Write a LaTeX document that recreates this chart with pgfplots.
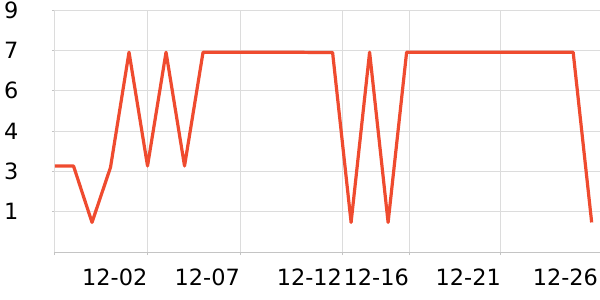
\documentclass[border=0pt]{standalone}
\usepackage{pgfplots}
\pgfplotsset{compat=1.18}
\usepackage{fontspec}
\setmainfont{DejaVu Sans}
\definecolor{linec}{HTML}{EF4B2F}
\definecolor{gridc}{HTML}{DCDCDC}
\definecolor{axisc}{HTML}{C4C4C4}
\begin{document}
\begin{tikzpicture}
\begin{axis}[
  at={(0,0)}, anchor=south west,
  scale only axis, width=545bp, height=242bp,
  xmin=0, xmax=29.45, ymin=0, ymax=9,
  axis x line*=bottom, axis y line*=left,
  axis line style={-, draw=gridc, line width=1bp},
  x axis line style={-, draw=axisc},
  xtick={0,5,10,15.52,19.13,24.1},
  xticklabels={,12-02,12-07,12-12,12-16,12-21},
  extra x ticks={29.35},
  extra x tick labels={12-26},
  extra x tick style={grid=none, tick style={draw=none}},
  ytick={1.5,3,4.5,6,7.5,9},
  yticklabels={1,3,4,6,7,9},
  grid=major,
  major grid style={draw=gridc, line width=1bp},
  tick align=outside,
  major tick length=3bp,
  tick style={draw=axisc, line width=1bp},
  ticklabel style={font=\fontsize{22.5}{27}\selectfont, text=black, inner sep=0pt},
  xticklabel style={anchor=north east, yshift=-14bp},
  yticklabel style={anchor=west, xshift=-48bp},
  clip=false,
]
\addplot[color=linec, line width=3.2bp, line join=round, mark=none] coordinates {
(0,3.2) (1,3.2) (2,1.1) (3,3.15) (4,7.43) (5,3.2) (6,7.43) (7,3.2) (8,7.43)
(9,7.43) (10,7.43) (11,7.43) (12,7.43) (13,7.43) (14,7.42) (15,7.42)
(16,1.1) (17,7.43) (18,1.1) (19,7.43) (20,7.43) (21,7.43) (22,7.43)
(23,7.43) (24,7.43) (25,7.43) (26,7.43) (27,7.43) (28,7.43) (29,1.1)
};
\end{axis}
\pgfresetboundingbox
\path[use as bounding box] (-55bp,-48bp) rectangle (545bp,252bp);
\end{tikzpicture}
\end{document}
